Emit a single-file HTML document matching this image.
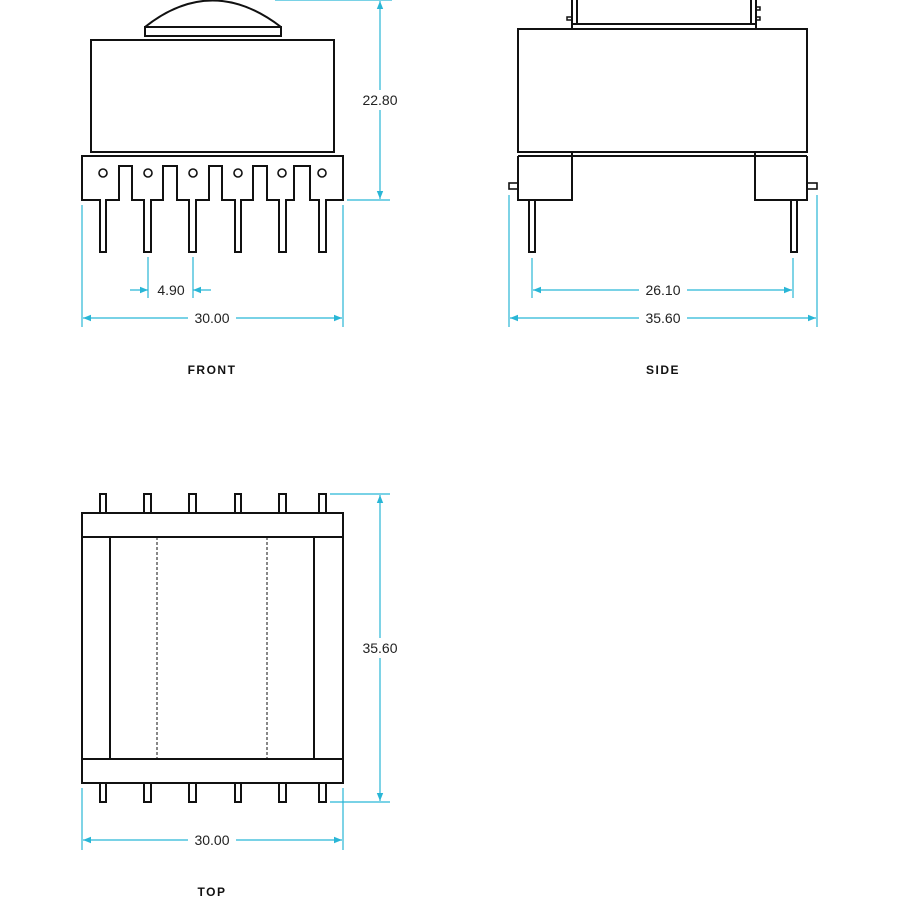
<!DOCTYPE html>
<html><head><style>
html,body{margin:0;padding:0;background:#fff;}
svg{display:block;}
.o{fill:none;stroke:#111;stroke-width:2;}
.d{fill:none;stroke:#29b6d6;stroke-width:1.2;}
.t{font-family:"Liberation Sans",sans-serif;font-size:14px;fill:#222;text-anchor:middle;dominant-baseline:central;}
.l{font-family:"Liberation Sans",sans-serif;font-size:12px;font-weight:bold;fill:#111;text-anchor:middle;letter-spacing:1.5px;dominant-baseline:central;}
.bg{fill:#fff;}
</style></head><body>
<svg width="900" height="900" viewBox="0 0 900 900" xmlns="http://www.w3.org/2000/svg">
<defs>
<marker id="ar" viewBox="0 0 10 10" refX="10" refY="5" markerWidth="8" markerHeight="8" orient="auto-start-reverse" markerUnits="userSpaceOnUse"><path d="M0,1 L10,5 L0,9 Z" fill="#29b6d6"/></marker>
</defs>
<!-- FRONT -->
<path class="o" d="M145,27 Q212,-26 281,27"/>
<rect class="o" x="145" y="27" width="136" height="9"/>
<rect class="o" x="91" y="40" width="243" height="112"/>
<path class="o" d="M82,200 L82,156 L343,156 L343,200 L326,200 L326,252 L319,252 L319,200 L310,200 L310,166 L294,166 L294,200 L286,200 L286,252 L279,252 L279,200 L267,200 L267,166 L253,166 L253,200 L241,200 L241,252 L235,252 L235,200 L222,200 L222,166 L209,166 L209,200 L196,200 L196,252 L189,252 L189,200 L177,200 L177,166 L163,166 L163,200 L151,200 L151,252 L144,252 L144,200 L132,200 L132,166 L119,166 L119,200 L106,200 L106,252 L100,252 L100,200 Z"/>
<g class="o" style="stroke-width:1.6">
<circle cx="103" cy="173" r="4"/><circle cx="148" cy="173" r="4"/><circle cx="193" cy="173" r="4"/>
<circle cx="238" cy="173" r="4"/><circle cx="282" cy="173" r="4"/><circle cx="322" cy="173" r="4"/>
</g>
<line class="d" x1="275" y1="0" x2="392" y2="0"/>
<line class="d" x1="347" y1="200" x2="390" y2="200"/>
<line class="d" x1="380" y1="1" x2="380" y2="199" marker-start="url(#ar)" marker-end="url(#ar)"/>
<rect class="bg" x="358" y="90" width="44" height="20"/>
<text class="t" x="380" y="100">22.80</text>
<line class="d" x1="148" y1="257" x2="148" y2="298"/>
<line class="d" x1="193" y1="257" x2="193" y2="298"/>
<line class="d" x1="130" y1="290" x2="148" y2="290" marker-end="url(#ar)"/>
<line class="d" x1="211" y1="290" x2="193" y2="290" marker-end="url(#ar)"/>
<text class="t" x="171" y="290">4.90</text>
<line class="d" x1="82" y1="205" x2="82" y2="327"/>
<line class="d" x1="343" y1="205" x2="343" y2="327"/>
<line class="d" x1="83" y1="318" x2="342" y2="318" marker-start="url(#ar)" marker-end="url(#ar)"/>
<rect class="bg" x="188" y="308" width="48" height="20"/>
<text class="t" x="212" y="318">30.00</text>
<text class="l" x="212" y="370">FRONT</text>
<!-- SIDE -->
<rect class="o" x="518" y="29" width="289" height="123"/>
<path class="o" d="M572,0 L572,29 M577,0 L577,24 L751,24 L751,0 M756,0 L756,29 M572,24 L577,24 M751,24 L756,24"/>
<rect class="o" x="567" y="17" width="5" height="3" style="stroke-width:1.5"/>
<rect class="o" x="756" y="7" width="4" height="3" style="stroke-width:1.5"/>
<rect class="o" x="756" y="17" width="4" height="3" style="stroke-width:1.5"/>
<line class="o" x1="518" y1="156" x2="807" y2="156"/>
<path class="o" d="M572,152 L572,200 L518,200 L518,156 M755,152 L755,200 L807,200 L807,156"/>
<rect class="o" x="509" y="183" width="9" height="6" style="stroke-width:1.6"/>
<rect class="o" x="807" y="183" width="10" height="6" style="stroke-width:1.6"/>
<rect class="o" x="529" y="200" width="6" height="52"/>
<rect class="o" x="791" y="200" width="6" height="52"/>
<line class="d" x1="532" y1="258" x2="532" y2="298"/>
<line class="d" x1="793" y1="258" x2="793" y2="298"/>
<line class="d" x1="533" y1="290" x2="792" y2="290" marker-start="url(#ar)" marker-end="url(#ar)"/>
<rect class="bg" x="639" y="280" width="48" height="20"/>
<text class="t" x="663" y="290">26.10</text>
<line class="d" x1="509" y1="195" x2="509" y2="327"/>
<line class="d" x1="817" y1="195" x2="817" y2="327"/>
<line class="d" x1="510" y1="318" x2="816" y2="318" marker-start="url(#ar)" marker-end="url(#ar)"/>
<rect class="bg" x="639" y="308" width="48" height="20"/>
<text class="t" x="663" y="318">35.60</text>
<text class="l" x="663" y="370">SIDE</text>
<!-- TOP -->
<g class="o">
<rect x="100" y="494" width="6" height="19"/><rect x="144" y="494" width="7" height="19"/><rect x="189" y="494" width="7" height="19"/>
<rect x="235" y="494" width="6" height="19"/><rect x="279" y="494" width="7" height="19"/><rect x="319" y="494" width="7" height="19"/>
<rect x="100" y="783" width="6" height="19"/><rect x="144" y="783" width="7" height="19"/><rect x="189" y="783" width="7" height="19"/>
<rect x="235" y="783" width="6" height="19"/><rect x="279" y="783" width="7" height="19"/><rect x="319" y="783" width="7" height="19"/>
</g>
<rect class="o" x="82" y="513" width="261" height="270" style="fill:#fff"/>
<line class="o" x1="82" y1="537" x2="343" y2="537"/>
<line class="o" x1="82" y1="759" x2="343" y2="759"/>
<line class="o" x1="110" y1="537" x2="110" y2="759"/>
<line class="o" x1="314" y1="537" x2="314" y2="759"/>
<line x1="157" y1="537" x2="157" y2="759" stroke="#111" stroke-width="1" stroke-dasharray="3,2"/>
<line x1="267" y1="537" x2="267" y2="759" stroke="#111" stroke-width="1" stroke-dasharray="3,2"/>
<line class="d" x1="330" y1="494" x2="390" y2="494"/>
<line class="d" x1="330" y1="802" x2="390" y2="802"/>
<line class="d" x1="380" y1="495" x2="380" y2="801" marker-start="url(#ar)" marker-end="url(#ar)"/>
<rect class="bg" x="358" y="638" width="44" height="20"/>
<text class="t" x="380" y="648">35.60</text>
<line class="d" x1="82" y1="788" x2="82" y2="850"/>
<line class="d" x1="343" y1="788" x2="343" y2="850"/>
<line class="d" x1="83" y1="840" x2="342" y2="840" marker-start="url(#ar)" marker-end="url(#ar)"/>
<rect class="bg" x="188" y="830" width="48" height="20"/>
<text class="t" x="212" y="840">30.00</text>
<text class="l" x="212" y="892">TOP</text>
</svg>
</body></html>
